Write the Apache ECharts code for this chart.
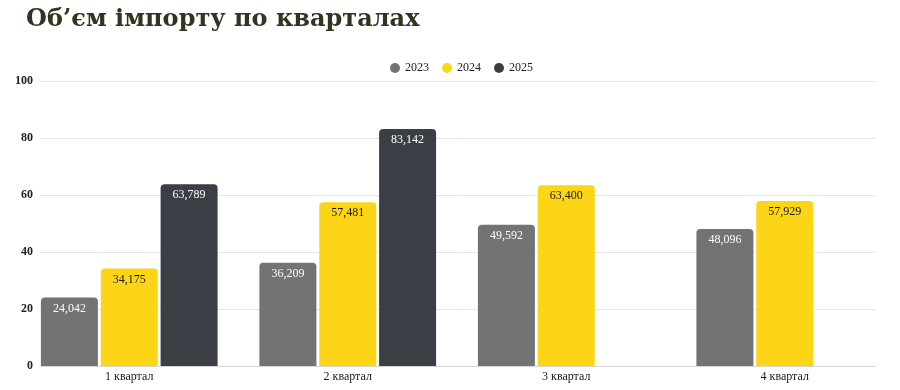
<!DOCTYPE html>
<html><head><meta charset="utf-8">
<script src="https://cdn.jsdelivr.net/npm/echarts@6/dist/echarts.min.js"></script>
<style>html,body{margin:0;padding:0;background:#fff}#c{width:900px;height:390px}</style>
</head><body><div id="c"></div>
<script>
const title = 'Об’єм імпорту по кварталах';
const categories = ['1 квартал', '2 квартал', '3 квартал', '4 квартал'];
const seriesNames = ['2023', '2024', '2025'];
const values2023 = [24.042, 36.209, 49.592, 48.096];
const values2024 = [34.175, 57.481, 63.400, 57.929];
const values2025 = [63.789, 83.142, null, null];
const yTicks = [0, 20, 40, 60, 80, 100];

const colors = ['#737373', '#fcd616', '#3b3f45'];
const labelColors = ['#ffffff', '#1a1a1a', '#ffffff'];
const serif = '"Liberation Serif", "DejaVu Serif", serif';
const fmt = v => v.toFixed(3).replace('.', ',');

const chart = echarts.init(document.getElementById('c'), null, {renderer: 'canvas'});
const allValues = [values2023, values2024, values2025];
chart.setOption({
  backgroundColor: '#ffffff',
  animation: false,
  title: {
    text: title, left: 21, top: 3,
    textStyle: {fontFamily: '"DejaVu Serif", serif', fontWeight: 'bold', fontSize: 24, color: '#35331f'}
  },
  legend: {
    data: seriesNames, top: 57, left: 385, icon: 'circle', itemWidth: 10, itemHeight: 10, itemGap: 13,
    textStyle: {fontFamily: serif, fontSize: 12, color: '#222'}
  },
  grid: [
    {left: 40, right: 25, top: 81, bottom: 24},
    {left: 20, right: 6, top: 81, bottom: 24}
  ],
  xAxis: [
    {type: 'category', gridIndex: 0, data: categories, axisLine: {show: true, lineStyle: {color: '#d6d6d6'}},
     axisTick: {show: false}, axisLabel: {show: false}},
    {type: 'category', gridIndex: 1, data: categories, axisLine: {show: false}, axisTick: {show: false},
     axisLabel: {fontFamily: serif, fontSize: 12, color: '#1a1a1a', margin: 5}}
  ],
  yAxis: [
    {type: 'value', gridIndex: 0, min: yTicks[0], max: yTicks[yTicks.length - 1], interval: 20,
     axisLine: {show: false}, axisTick: {show: false},
     axisLabel: {fontFamily: serif, fontSize: 12, fontWeight: 'bold', color: '#222', margin: 7},
     splitLine: {lineStyle: {color: '#e6e6e6'}}},
    {type: 'value', gridIndex: 1, min: yTicks[0], max: yTicks[yTicks.length - 1], interval: 20, show: false}
  ],
  series: seriesNames.map((n, i) => ({
    name: n, type: 'bar', xAxisIndex: 1, yAxisIndex: 1, data: allValues[i],
    barWidth: 57, barGap: '5%',
    itemStyle: {color: colors[i], borderRadius: [4, 4, 0, 0]},
    label: {show: true, position: 'insideTop', distance: 5, formatter: p => fmt(p.value),
      fontFamily: serif, fontSize: 12, color: labelColors[i]}
  }))
});
</script></body></html>
